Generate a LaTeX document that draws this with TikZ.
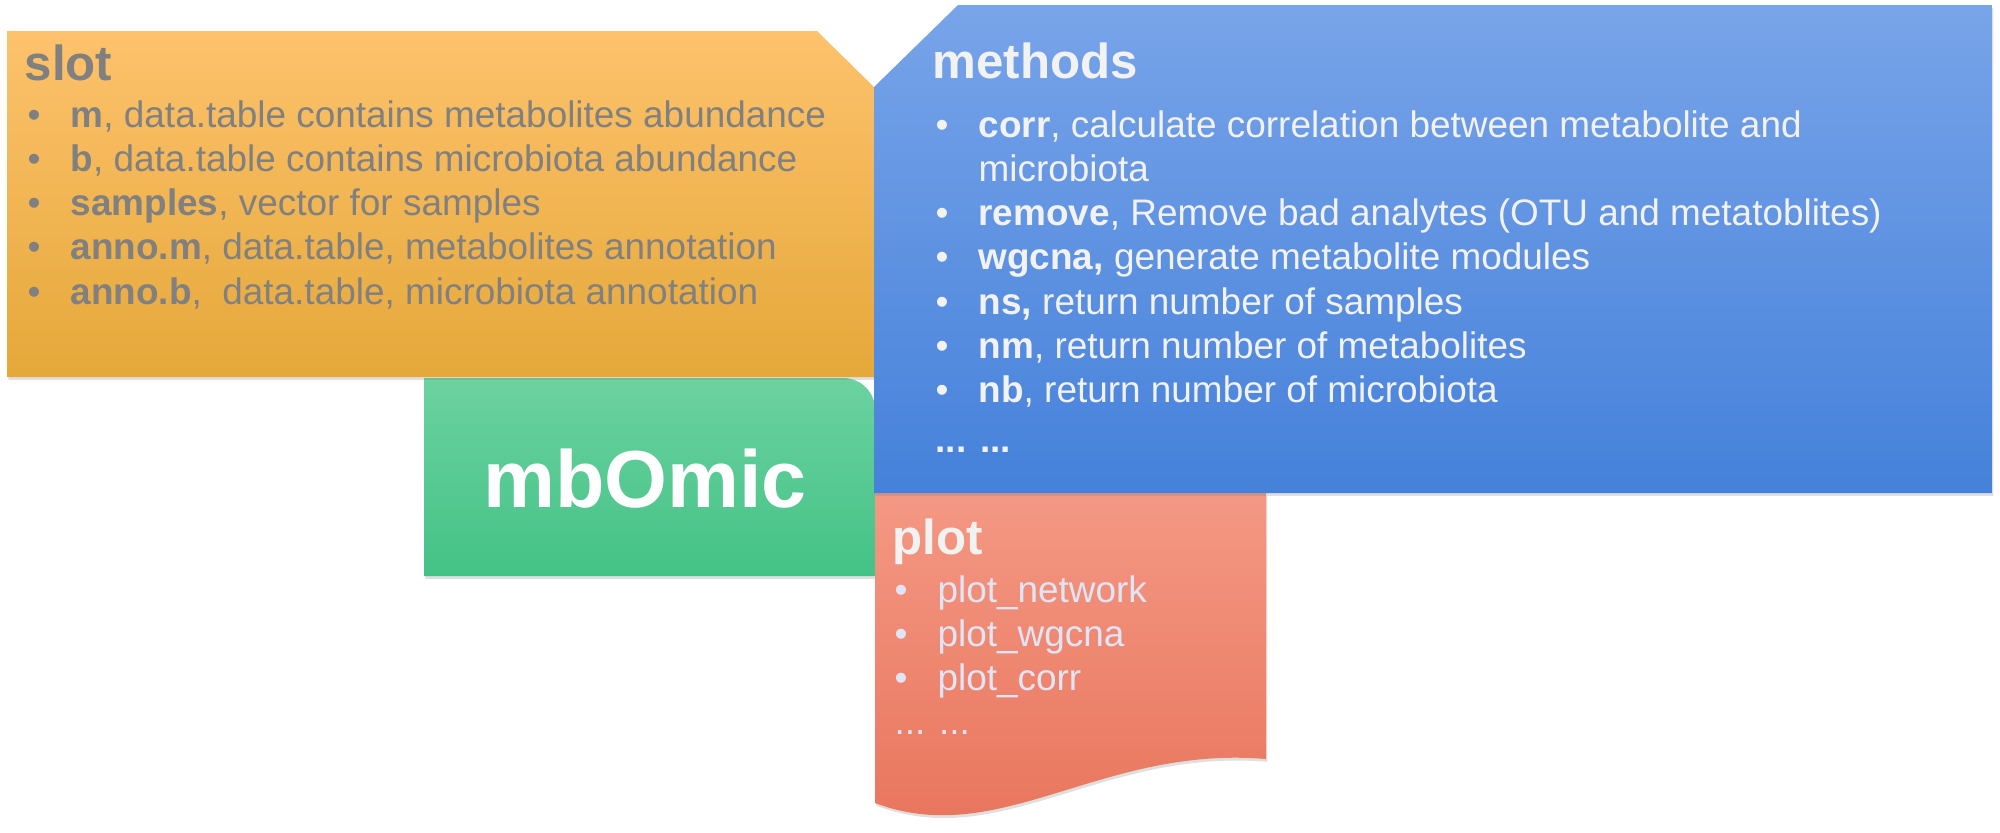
\documentclass[tikz,border=0pt]{standalone}
\usepackage{fontspec}
\setmainfont{Liberation Sans}
\usetikzlibrary{shadows}

\definecolor{slottop}{RGB}{253,194,108}
\definecolor{slotbot}{RGB}{229,168,58}
\definecolor{methtop}{RGB}{120,164,233}
\definecolor{methbot}{RGB}{69,129,218}
\definecolor{coretop}{RGB}{108,210,160}
\definecolor{corebot}{RGB}{68,194,134}
\definecolor{plottop}{RGB}{244,152,132}
\definecolor{plotbot}{RGB}{232,115,90}
\definecolor{slottext}{RGB}{128,128,128}
\definecolor{lighttext}{RGB}{242,242,242}
\definecolor{plottext}{RGB}{224,229,245}

\newcommand{\itm}[2]{\makebox[12.2pt][l]{\textbullet}\textbf{#1}#2}

\begin{document}
\begin{tikzpicture}[
    x=0.01cm, y=-0.01cm,
    panel/.style={drop shadow={shadow xshift=0.4pt,shadow yshift=-0.8pt,opacity=0.25}},
    ttl/.style={anchor=base west,inner sep=0pt,font=\fontsize{14}{16}\selectfont\bfseries},
    lst/.style={anchor=base west,inner sep=0pt,font=\fontsize{10.5}{12.6}\selectfont},
]
    \useasboundingbox (0,0) rectangle (2000,832);

    % panels
    \path[panel,top color=coretop,bottom color=corebot]
        (424,378) -- (843,378) .. controls (861,378) and (875,392) .. (875,410)
        -- (875,576) -- (424,576) -- cycle;
    \path[panel,top color=slottop,bottom color=slotbot]
        (7,31) -- (817,31) -- (874,87) -- (874,377) -- (7,377) -- cycle;
    \path[panel,top color=plottop,bottom color=plotbot]
        (875,493) -- (1266,493) -- (1266,759)
        .. controls (1100,745) and (1000,850) .. (875,803) -- cycle;
    \path[panel,top color=methtop,bottom color=methbot]
        (958,5) -- (1992,5) -- (1992,493) -- (874,493) -- (874,87) -- cycle;

    % slot
    \node[ttl,text=slottext] (slot) at (24,80) {slot};
    \node[lst,text=slottext] (slotlist) at (27,127) {\begin{tabular}[t]{@{}l@{}}
        \itm{m}{, data.table contains metabolites abundance}\\
        \itm{b}{, data.table contains microbiota abundance}\\
        \itm{samples}{, vector for samples}\\
        \itm{anno.m}{, data.table, metabolites annotation}\\
        \itm{anno.b}{,\ \ data.table, microbiota annotation}
    \end{tabular}};

    % methods
    \node[ttl,text=lighttext] (methods) at (932,78) {methods};
    \node[lst,text=lighttext] (methlist) at (935,137) {\begin{tabular}[t]{@{}l@{}}
        \itm{corr}{, calculate correlation between metabolite and}\\
        \hspace{12.2pt}microbiota\\
        \itm{remove}{, Remove bad analytes (OTU and metatoblites)}\\
        \itm{wgcna,}{ generate metabolite modules}\\
        \itm{ns,}{ return number of samples}\\
        \itm{nm}{, return number of metabolites}\\
        \itm{nb}{, return number of microbiota}\\[1.5pt]
        \textbf{... ...}
    \end{tabular}};

    % core
    \node[anchor=base,inner sep=0pt,text=white,font=\fontsize{23}{26}\selectfont\bfseries]
        (core) at (645,507) {mbOmic};

    % plot
    \node[ttl,text=lighttext] (plot) at (892,554) {plot};
    \node[lst,text=plottext] (plotlist) at (894,602) {\begin{tabular}[t]{@{}l@{}}
        \itm{}{plot\_network}\\
        \itm{}{plot\_wgcna}\\
        \itm{}{plot\_corr}\\
        ... ...
    \end{tabular}};
\end{tikzpicture}
\end{document}
